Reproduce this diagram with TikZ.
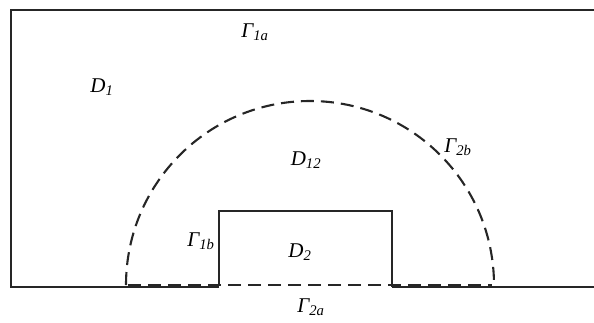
\documentclass[tikz,border=0pt]{standalone}
\usepackage{fontspec}
\setmainfont{Liberation Serif}
\begin{document}
\begin{tikzpicture}[x=1pt,y=-1pt,
  solidline/.style={line width=1.9pt,black!85},
  dashline/.style={line width=2.1pt,black!85,dash pattern=on 13pt off 7pt},
  lbl/.style={font=\fontsize{21}{21}\selectfont\itshape,inner sep=0pt}]
\useasboundingbox (0,0) rectangle (594,322);
% outer boundary
\coordinate (TR) at (594,10);
\coordinate (TL) at (11,10);
\coordinate (BL) at (11,287);
\coordinate (BR) at (594,287);
\coordinate (RL) at (219,287);
\coordinate (RR) at (392,287);
\draw[solidline] (TR) -- (TL) -- (BL) -- (RL);
\draw[solidline] (RR) -- (BR);
% inner rectangle D2
\draw[solidline] (219,286) -- (219,211) -- (392,211) -- (392,287);
% dashed semicircle
\draw[dashline] (126,285) arc[start angle=180,end angle=360,radius=184];
% dashed bottom
\draw[dashline] (128,285) -- (492,285);
% labels
\node[lbl] (g1a) at (255,32) {Γ\textsubscript{1a}};
\node[lbl] (d1) at (102,87) {D\textsubscript{1}};
\node[lbl] (d12) at (306,160) {D\textsubscript{12}};
\node[lbl] (g2b) at (458,147) {Γ\textsubscript{2b}};
\node[lbl] (g1b) at (201,241) {Γ\textsubscript{1b}};
\node[lbl] (d2) at (300,252) {D\textsubscript{2}};
\node[lbl] (g2a) at (311,307) {Γ\textsubscript{2a}};
\end{tikzpicture}
\end{document}
